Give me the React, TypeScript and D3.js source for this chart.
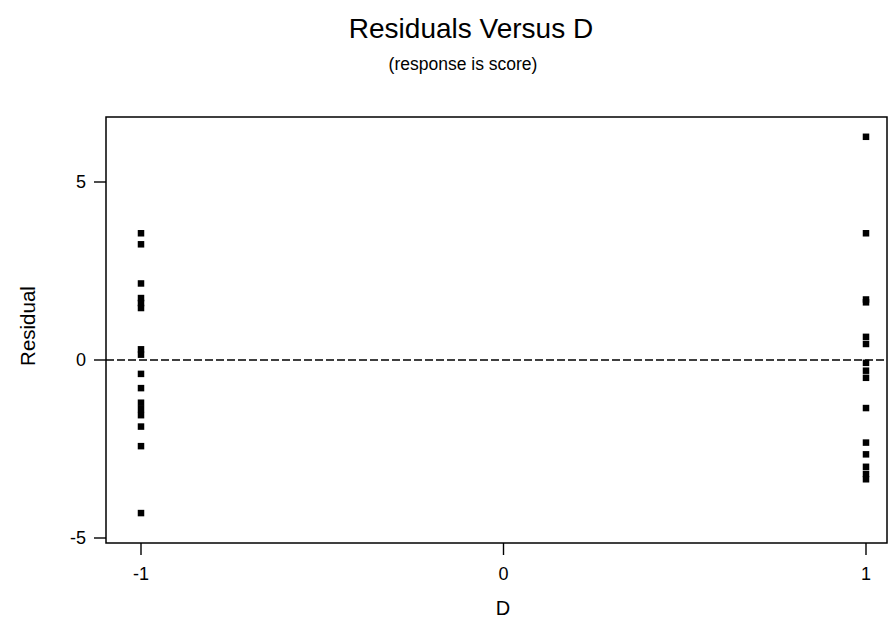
import React from "react";
import * as d3 from "d3";

// Residuals at each level of factor D
const levelNeg: number[] = [3.56, 3.25, 2.15, 1.74, 1.6, 1.46, 0.3, 0.15, -0.39, -0.79, -1.2, -1.38, -1.55, -1.87, -2.42, -4.3];
const levelPos: number[] = [6.27, 3.56, 1.7, 1.62, 0.65, 0.45, -0.08, -0.3, -0.5, -1.35, -2.32, -2.65, -3.0, -3.2, -3.35];
const xTicks: number[] = [-1, 0, 1];
const yTicks: number[] = [-5, 0, 5];

const W = 890;
const H = 622;
const frame = { left: 106, right: 887, top: 117, bottom: 543 };

export default function App() {
  const x = d3.scaleLinear().domain([-1, 1]).range([141, 866]);
  const y = d3.scaleLinear().domain([-5, 5]).range([538, 182]);
  const points = [
    ...levelNeg.map((r) => ({ d: -1, r })),
    ...levelPos.map((r) => ({ d: 1, r })),
  ];
  const font = "Liberation Sans, Arial, Helvetica, sans-serif";
  const s = 6.5;
  return (
    <svg width={W} height={H} style={{ position: "absolute", left: 0, top: 0, background: "#fff" }} fontFamily={font}>
      <text x={471} y={38} textAnchor="middle" fontSize={28} fill="#000">Residuals Versus D</text>
      <text x={463} y={70} textAnchor="middle" fontSize={17.5} fill="#000">(response is score)</text>

      <rect x={frame.left} y={frame.top} width={frame.right - frame.left} height={frame.bottom - frame.top} fill="none" stroke="#000" strokeWidth={1.5} />

      <line x1={frame.left} x2={frame.right} y1={y(0)} y2={y(0)} stroke="#000" strokeWidth={1.3} strokeDasharray="8,3" />

      {yTicks.map((t) => (
        <g key={"y" + t}>
          <line x1={frame.left - 12} x2={frame.left} y1={y(t)} y2={y(t)} stroke="#000" strokeWidth={1.4} />
          <text x={86} y={y(t)} dy="0.36em" textAnchor="end" fontSize={18} fill="#000">{t}</text>
        </g>
      ))}
      {xTicks.map((t) => (
        <g key={"x" + t}>
          <line x1={x(t)} x2={x(t)} y1={frame.bottom} y2={frame.bottom + 12} stroke="#000" strokeWidth={1.4} />
          <text x={x(t)} y={580} textAnchor="middle" fontSize={18} fill="#000">{t}</text>
        </g>
      ))}

      <text x={503} y={615} textAnchor="middle" fontSize={20} fill="#000">D</text>
      <text transform={`translate(35,326) rotate(-90)`} textAnchor="middle" fontSize={20.5} fill="#000">Residual</text>

      {points.map((p, i) => (
        <rect key={i} x={x(p.d) - s / 2} y={y(p.r) - s / 2} width={s} height={s} fill="#000" />
      ))}
    </svg>
  );
}
